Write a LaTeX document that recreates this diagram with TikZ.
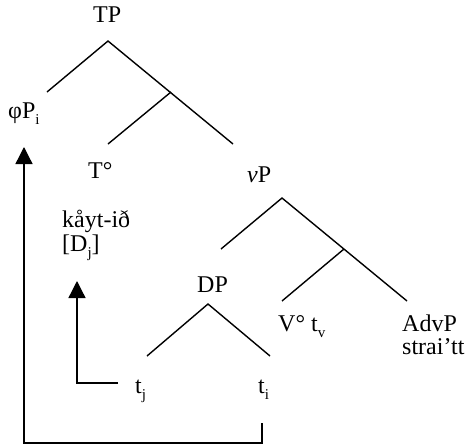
\documentclass[tikz,border=0pt]{standalone}
\usepackage{fontspec}
\setmainfont{Liberation Serif}
\usetikzlibrary{arrows.meta}
\newcommand\lsub[1]{\raisebox{-0.25em}{\fontsize{15}{15}\selectfont #1}}
\tikzset{
  lbl/.style={inner sep=0pt, anchor=base west, font=\fontsize{24}{26}\selectfont},
  branch/.style={line width=1.4pt},
  mv/.style={line width=1.3pt, -{Triangle[length=17pt,width=17pt]}},
}
\begin{document}
\begin{tikzpicture}[x=1pt,y=-1pt]
\useasboundingbox (0,0) rectangle (468,447);
% labels
\node[lbl] (TP) at (93,22) {TP};
\node[lbl] (phiP) at (8,118) {φP\lsub{i}};
\node[lbl] (T) at (88,178) {T°};
\node[lbl] (vP) at (247,182) {\textit{ν}P};
\node[lbl] (kayt) at (62,227) {kåyt-ið};
\node[lbl] (Dj) at (62,251) {[D\lsub{j}]};
\node[lbl] (DP) at (197,292) {DP};
\node[lbl] (V) at (278,331) {V° t\lsub{v}};
\node[lbl] (AdvP) at (402,331) {AdvP};
\node[lbl] (strait) at (402,354) {strai’tt};
\node[lbl] (tj) at (135,393) {t\lsub{j}};
\node[lbl] (ti) at (258,393) {t\lsub{i}};
% tree junctions
\coordinate (tpA) at (108,41);
\coordinate (tpL) at (47,92);
\coordinate (tpR) at (233,144);
\coordinate (tbar) at (171,92);
\coordinate (tbarL) at (108,144);
\coordinate (vpA) at (282,198);
\coordinate (vpL) at (221,249);
\coordinate (vpR) at (407,301);
\coordinate (vbar) at (344,249);
\coordinate (vbarL) at (282,301);
\coordinate (dpA) at (208,304);
\coordinate (dpL) at (147,356);
\coordinate (dpR) at (270,356);
\draw[branch] (tpL) -- (tpA) -- (tpR);
\draw[branch] (tbar) -- (tbarL);
\draw[branch] (vpL) -- (vpA) -- (vpR);
\draw[branch] (vbar) -- (vbarL);
\draw[branch] (dpL) -- (dpA) -- (dpR);
% movement arrows
\coordinate (m1s) at (118,383);
\coordinate (m1c) at (77,383);
\coordinate (m1e) at (77,281);
\draw[mv] (m1s) -- (m1c) -- (m1e);
\coordinate (m2s) at (262,423);
\coordinate (m2c1) at (262,443);
\coordinate (m2c2) at (24,443);
\coordinate (m2e) at (24,147);
\draw[mv] (m2s) -- (m2c1) -- (m2c2) -- (m2e);
\end{tikzpicture}
\end{document}
